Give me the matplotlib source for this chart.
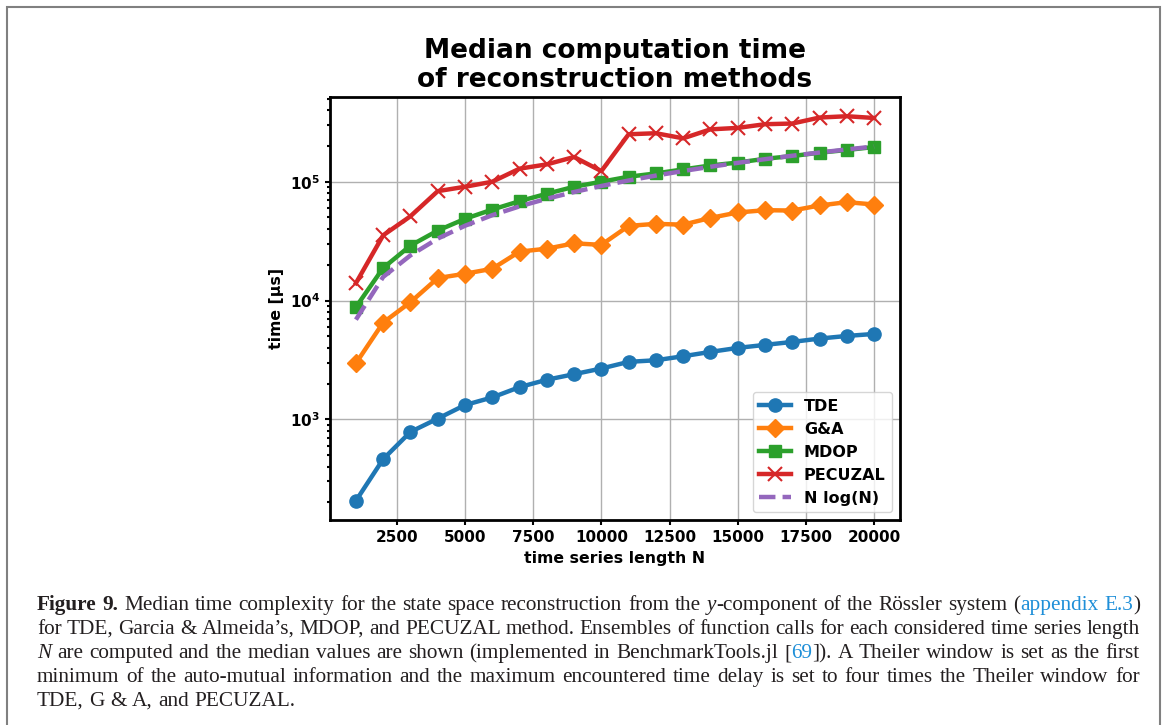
import matplotlib
matplotlib.use("Agg")
import matplotlib.pyplot as plt
from matplotlib.transforms import IdentityTransform
from matplotlib.patches import Rectangle

# *************************************************************
# Daten
# *************************************************************
N = [1000, 2000, 3000, 4000, 5000, 6000, 7000, 8000, 9000, 10000,
     11000, 12000, 13000, 14000, 15000, 16000, 17000, 18000, 19000, 20000]

tde = [206, 462, 783, 1013, 1318, 1528, 1865, 2152, 2397, 2675,
       3044, 3140, 3394, 3693, 3990, 4230, 4480, 4780, 5030, 5230]
ga = [2960, 6520, 9680, 15450, 16800, 18500, 25800, 27300, 30300, 29400,
      42500, 44200, 43500, 49600, 55100, 57600, 57200, 63100, 67300, 64300]
mdop = [8800, 18800, 29000, 38800, 48700, 58300, 68600, 79200, 90700, 100000,
        110200, 117500, 127000, 137000, 145000, 156000, 164500, 175600, 185000, 196000]
pecuzal = [14000, 35400, 51200, 83300, 90700, 100000, 128800, 140000, 161500, 122900,
           251000, 256000, 232000, 276000, 284000, 305000, 309000, 347000, 356000, 344000]
nlogn = [6900, 15800, 24000, 33200, 42600, 52300, 62000, 71900, 81900, 92100,
         102400, 112700, 123100, 133600, 144200, 154800, 165500, 176200, 187000, 198000]

W, H = 1165, 725
fig = plt.figure(figsize=(W / 100, H / 100), dpi=100)

# grauer Rahmen
fig.patches.append(Rectangle((6.5 / W, -0.1), (1160 - 6.5) / W, 1.1 - 7.5 / H,
                             transform=fig.transFigure, fill=False,
                             edgecolor='#808080', linewidth=1.5))

ax = fig.add_axes([330 / W, 1 - 520 / H, 570 / W, 423 / H])

lw = 3.2
ax.plot(N, tde, '-o', color='tab:blue', lw=lw, ms=9.5, label='TDE')
ax.plot(N, ga, '-D', color='tab:orange', lw=lw, ms=9.5, label='G&A')
ax.plot(N, mdop, '-s', color='tab:green', lw=lw, ms=8.5, label='MDOP')
ax.plot(N, pecuzal, '-x', color='tab:red', lw=lw, ms=10, mew=1.5, label='PECUZAL')
ax.plot(N, nlogn, '--', color='tab:purple', lw=lw, label='N log(N)')

ax.set_yscale('log')
ax.set_xticks([2500, 5000, 7500, 10000, 12500, 15000, 17500, 20000])
ax.grid(True, which='major', color='#b0b0b0', lw=1)
for s in ax.spines.values():
    s.set_linewidth(2)
ax.tick_params(which='both', width=1.5)
ax.tick_params(axis='x', pad=4)
for lab in ax.get_xticklabels() + ax.get_yticklabels():
    lab.set_fontweight('bold')
    lab.set_fontsize(11)

ax.set_xlabel('time series length N', fontweight='bold', fontsize=11.3, labelpad=4)
ax.set_ylabel('time [µs]', fontweight='bold', fontsize=11.3)
ax.set_title('Median computation time\nof reconstruction methods',
             fontweight='bold', fontsize=19, linespacing=1.15, pad=7)

leg = ax.legend(loc='lower right', prop={'weight': 'bold', 'size': 11.5})

# *************************************************************
# Bildunterschrift (Blocksatz)
# *************************************************************
fig.canvas.draw()
r = fig.canvas.get_renderer()
base = dict(family='Liberation Serif', fontsize=15.3, color='#231f20')
blue = '#1f8fd8'


def word_width(runs):
    total = 0
    for txt, kw in runs:
        t = fig.text(0, 0, txt, transform=IdentityTransform(), **{**base, **kw})
        total += t.get_window_extent(r).width
        t.remove()
    return total


def place_line(words, y, x0, x1, justify=True):
    widths = [word_width(w) for w in words]
    space = word_width([('a a', {})]) - word_width([('aa', {})])
    if justify and len(words) > 1:
        gap = (x1 - x0 - sum(widths)) / (len(words) - 1)
    else:
        gap = space
    x = x0
    for w, wd in zip(words, widths):
        xx = x
        for txt, kw in w:
            t = fig.text(xx, H - y, txt, transform=IdentityTransform(),
                         va='baseline', **{**base, **kw})
            xx += t.get_window_extent(r).width
        x += wd + gap


def plain(s):
    return [[(w, {})] for w in s.split()]


B = {'fontweight': 'bold'}
I = {'style': 'italic'}
L = {'color': blue}

line1 = [[('Figure', B)], [('9.', B)]] + \
    plain('Median time complexity for the state space reconstruction from the') + \
    [[('y', I), ('-component', {})]] + plain('of the Rössler system') + \
    [[('(', {}), ('appendix', L)], [('E.3', L), (')', {})]]
line2 = plain('for TDE, Garcia') + [[('&', {})]] + \
    plain('Almeida’s, MDOP, and PECUZAL method. Ensembles of function calls for each considered time series length')
line3 = [[('N', I)]] + plain('are computed and the median values are shown (implemented in BenchmarkTools.jl') + \
    [[('[', {}), ('69', L), (']).', {})]] + plain('A Theiler window is set as the first')
line4 = plain('minimum of the auto-mutual information and the maximum encountered time delay is set to four times the Theiler window for')
line5 = plain('TDE, G & A, and PECUZAL.')

x0, x1 = 37, 1140
place_line(line1, 610, x0, x1)
place_line(line2, 634, x0, x1)
place_line(line3, 658, x0, x1)
place_line(line4, 682, x0, x1)
place_line(line5, 706, x0, x1, justify=False)

fig.savefig('out.png', dpi=100)
